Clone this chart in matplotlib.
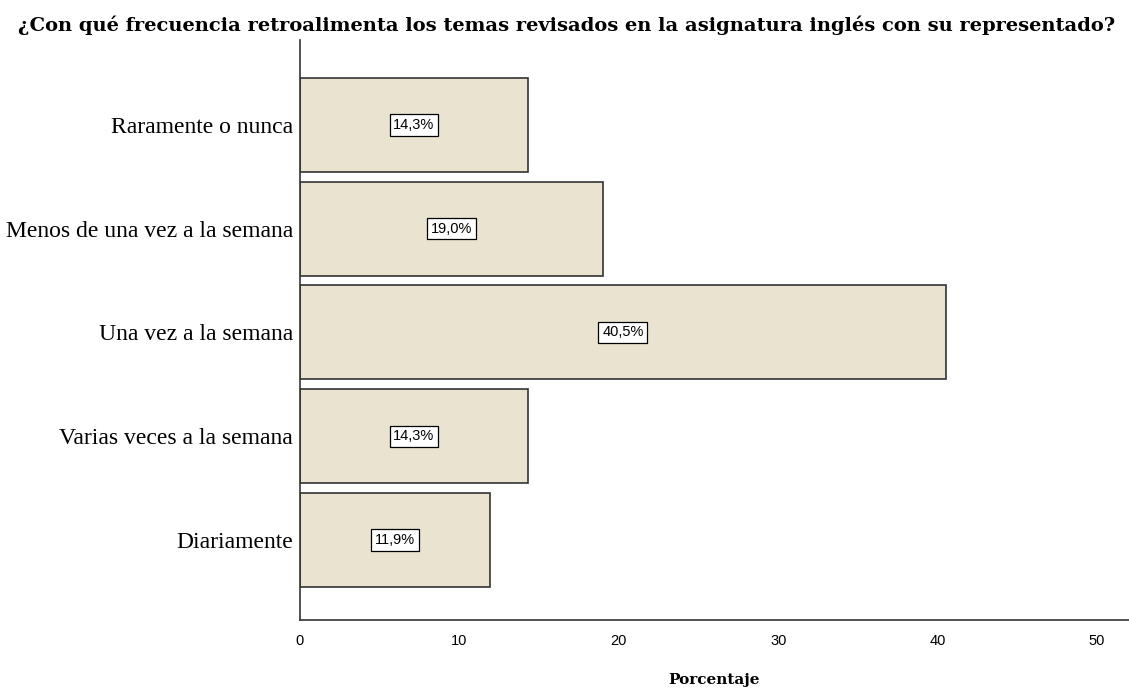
import matplotlib
matplotlib.use('Agg')
import matplotlib.pyplot as plt

# datos
categorias = ['Diariamente', 'Varias veces a la semana', 'Una vez a la semana',
              'Menos de una vez a la semana', 'Raramente o nunca']
porcentajes = [11.9, 14.3, 40.5, 19.0, 14.3]
etiquetas = ['11,9%', '14,3%', '40,5%', '19,0%', '14,3%']
ticks_x = [0, 10, 20, 30, 40, 50]

titulo = '¿Con qué frecuencia retroalimenta los temas revisados en la asignatura inglés con su representado?'

fig = plt.figure(figsize=(11.29, 6.89), dpi=100)
ax = fig.add_axes([300/1129, 1 - 620/689, 1 - 300/1129, (620 - 40)/689])

pos = list(range(len(categorias)))
ax.barh(pos, porcentajes, height=0.906, color='#EAE3CF', edgecolor='#333333', linewidth=1.2)

for p, v, t in zip(pos, porcentajes, etiquetas):
    ax.text(v / 2, p, t, ha='center', va='center', fontsize=10.5, family='Liberation Sans',
            bbox=dict(boxstyle='square,pad=0.25', facecolor='white', edgecolor='black', linewidth=0.9))

ax.set_xlim(0, 52)
ax.set_ylim(-0.771, 4.819)
ax.set_xticks(ticks_x)
ax.set_xticklabels([str(t) for t in ticks_x], family='Liberation Sans', fontsize=10.5)
ax.set_yticks(pos)
ax.set_yticklabels(categorias, family='Liberation Serif', fontsize=17)
ax.tick_params(length=0, pad=5)
ax.tick_params(axis='x', pad=10)

for s in ['top', 'right']:
    ax.spines[s].set_visible(False)
for s in ['left', 'bottom']:
    ax.spines[s].set_color('#333333')
    ax.spines[s].set_linewidth(1.2)

fig.text(714/1129, 1 - 680/689, 'Porcentaje', family='DejaVu Serif', fontweight='bold',
         fontsize=11, ha='center', va='center')
fig.text(18/1129, 1 - 25/689, titulo, family='DejaVu Serif', fontweight='bold', fontsize=14,
         ha='left', va='center')

fig.savefig('out.png', dpi=100)
